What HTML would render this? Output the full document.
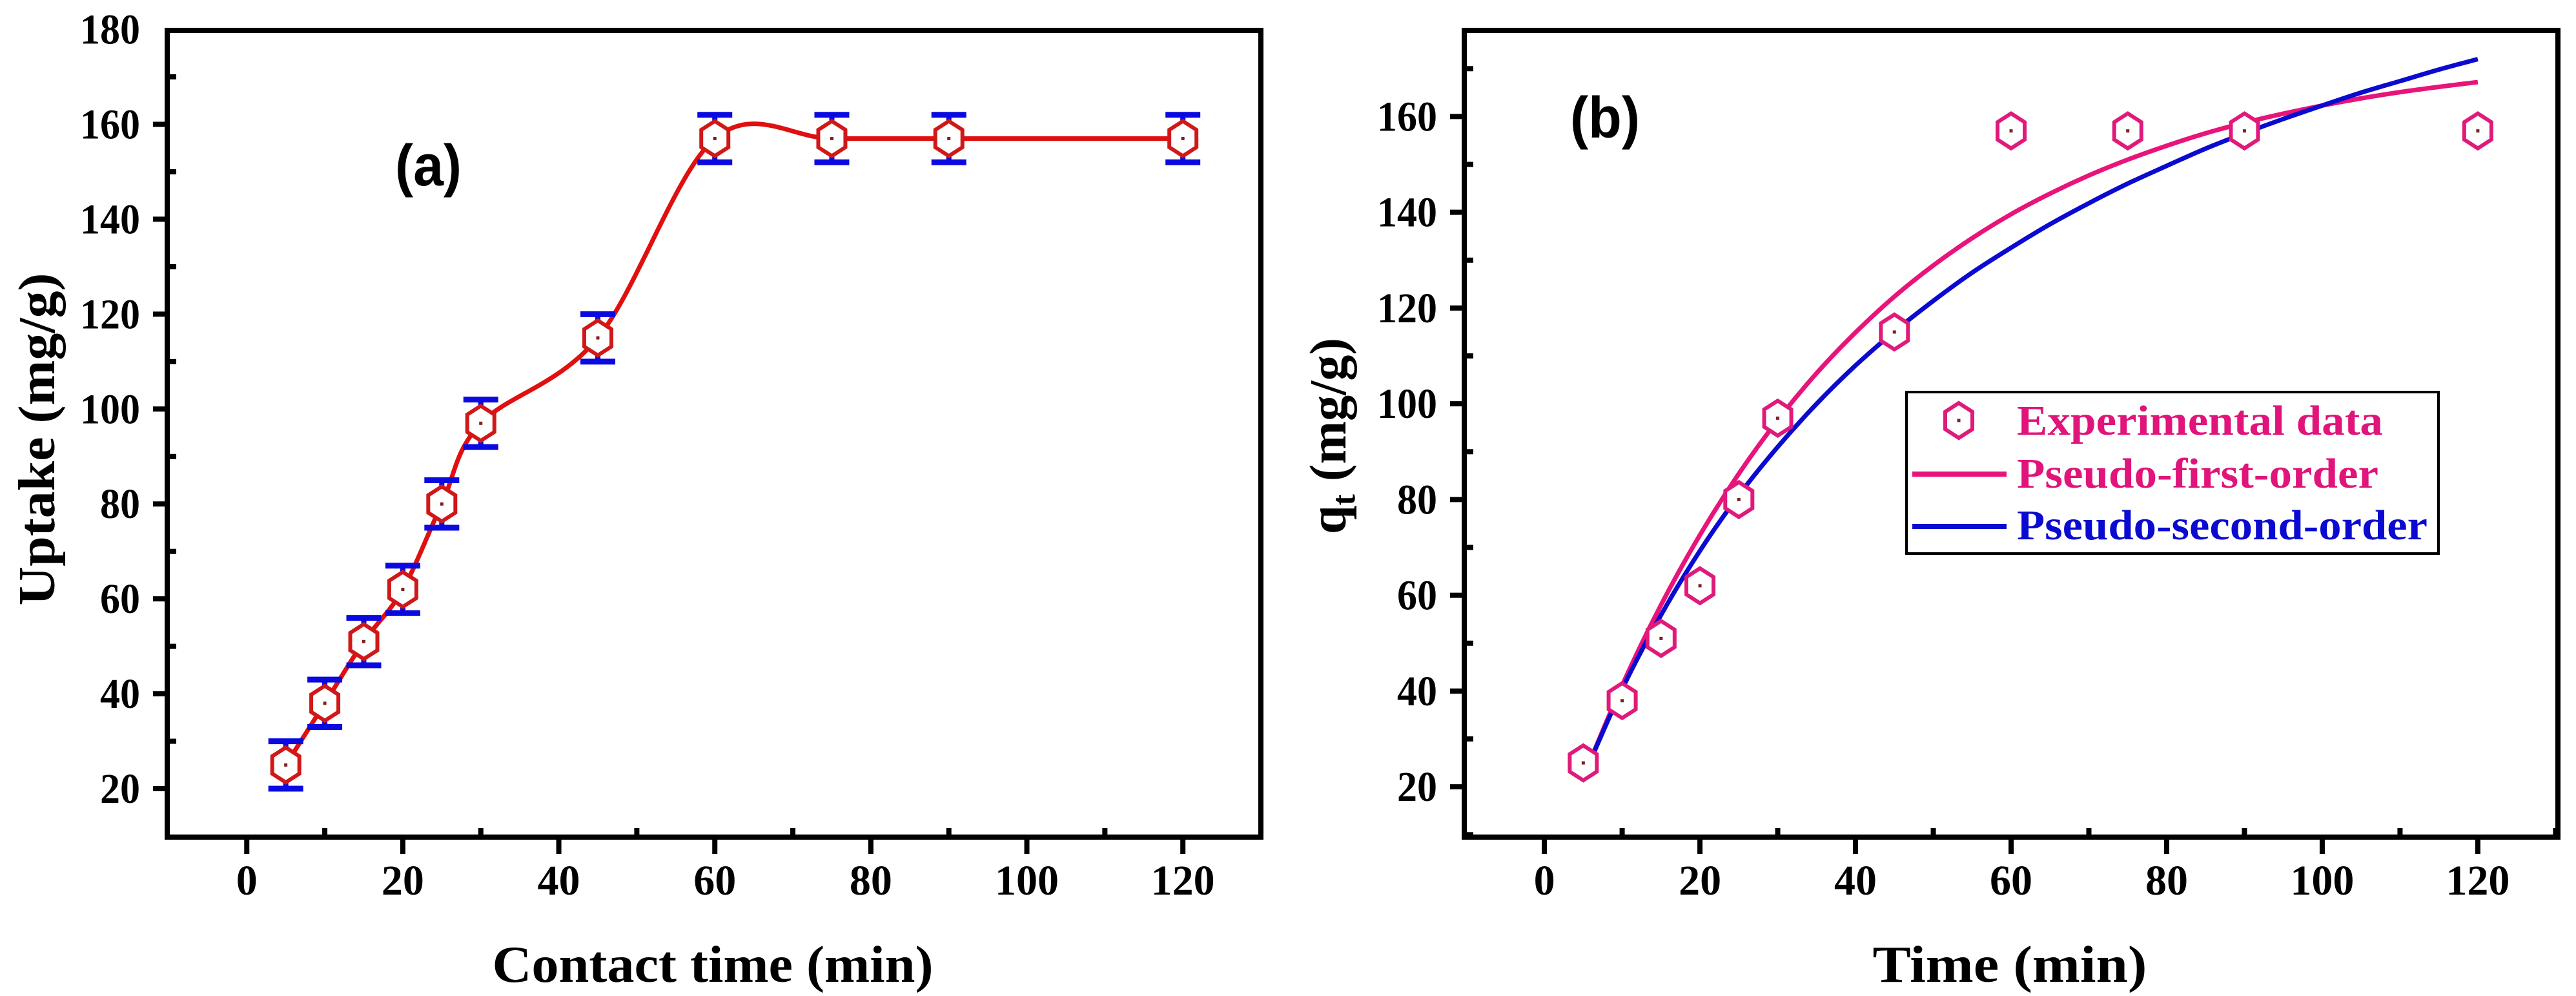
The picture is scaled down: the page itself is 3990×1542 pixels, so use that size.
<!DOCTYPE html>
<html><head><meta charset="utf-8"><style>
html,body{margin:0;padding:0;background:#fff;}
svg{display:block;}
text{font-family:"Liberation Serif",serif;font-weight:bold;}
</style></head><body>
<svg id="chart" width="3990" height="1542" viewBox="0 0 3990 1542" xmlns="http://www.w3.org/2000/svg">
<rect width="3990" height="1542" fill="#fff"/>
</svg>
<script>
// ---- data ----
const times = [5,10,15,20,25,30,45,60,75,90,120];
const uptake = [25,38,51,62,80,97,115,157,157,157,157];
const uptakeErr = [5,5,5,5,5,5,5,5,5,5,5];
const fitTimes = [5,10,15,20,25,30,35,40,45,50,55,60,65,70,75,80,85,90,95,100,105,110,115,120];
const pfoValues = [22.0,41.2,58.0,72.6,85.4,96.6,106.4,114.9,122.4,128.9,134.6,139.6,143.9,147.7,151.0,153.9,156.5,158.7,160.6,162.3,163.8,165.1,166.2,167.2];
const psoValues = [22.0,40.4,55.9,69.3,80.9,91.0,100.0,108.0,115.1,121.5,127.4,132.6,137.5,141.9,146.0,149.7,153.3,156.5,159.5,162.3,165.0,167.4,169.8,172.0];
const xTicksA = [0,20,40,60,80,100,120];
const yTicksA = [20,40,60,80,100,120,140,160,180];
const yTicksB = [20,40,60,80,100,120,140,160];
const legendLabels = ["Experimental data","Pseudo-first-order","Pseudo-second-order"];

const NS="http://www.w3.org/2000/svg";
const svg=document.getElementById('chart');
function mk(tag,attrs,parent){const e=document.createElementNS(NS,tag);for(const k in attrs)e.setAttribute(k,attrs[k]);(parent||svg).appendChild(e);return e;}

function makePanel(cfg){
  const g=mk('g',{});
  
  
  const sx=v=>cfg.x0+(v-cfg.xmin)/(cfg.xmax-cfg.xmin)*(cfg.x1-cfg.x0);
  const sy=v=>cfg.y1-(v-cfg.ymin)/(cfg.ymax-cfg.ymin)*(cfg.y1-cfg.y0);
  const fr=mk('rect',{x:cfg.x0,y:cfg.y0,width:cfg.x1-cfg.x0,height:cfg.y1-cfg.y0,fill:'none',stroke:'#000','stroke-width':8},g);
  
  
  for(let v=0;v<=cfg.xmax;v+=10){
    const X=sx(v);const major=v%20===0;
    const t=mk('line',{x1:X,x2:X,y1:major?cfg.y1:cfg.y1-4,y2:major?cfg.y1+26:cfg.y1-14,stroke:'#000','stroke-width':8},g);
    
    
  }
  xTicksA.forEach(v=>{
    const t=mk('text',{x:sx(v),y:1385,'font-size':66,'text-anchor':'middle'},g);t.textContent=v;
    
    
  });
  for(let v=cfg.ytickStart;v<cfg.ymax;v+=10){
    const Y=sy(v);const major=v%20===0;
    const t=mk('line',{x1:major?cfg.x0-22:cfg.x0+4,x2:major?cfg.x0:cfg.x0+14,y1:Y,y2:Y,stroke:'#000','stroke-width':8},g);
    
    
  }
  cfg.yTicks.forEach(v=>{
    const t=mk('text',{x:cfg.x0-42,y:sy(v)+22,'font-size':66,'text-anchor':'end',textLength:String(v).length*31,lengthAdjust:'spacingAndGlyphs'},g);t.textContent=v;
    
    
  });
  return {g,sx,sy};
}

function hex(g,cx,cy,color,name){
  const rx=21,ry=27;
  const pts=[[cx,cy-ry],[cx+rx,cy-ry/2],[cx+rx,cy+ry/2],[cx,cy+ry],[cx-rx,cy+ry/2],[cx-rx,cy-ry/2]].map(p=>p.join(',')).join(' ');
  const p=mk('polygon',{points:pts,fill:'#fff',stroke:color,'stroke-width':6},g);
  
  
  mk('rect',{x:cx-2.5,y:cy-2.5,width:5,height:5,fill:'#802020'},g);
}

function smoothPath(pts){
  let d='M'+pts[0][0]+','+pts[0][1];
  for(let i=0;i<pts.length-1;i++){
    const p0=pts[i-1]||pts[i],p1=pts[i],p2=pts[i+1],p3=pts[i+2]||p2;
    const c1=[p1[0]+(p2[0]-p0[0])/6,p1[1]+(p2[1]-p0[1])/6];
    const c2=[p2[0]-(p3[0]-p1[0])/6,p2[1]-(p3[1]-p1[1])/6];
    d+=' C'+c1.join(',')+' '+c2.join(',')+' '+p2.join(',');
  }
  return d;
}

// ---- Panel A ----
const A=makePanel({name:'panel-a',x0:259,x1:1953,y0:47,y1:1296,xmin:-10.2,xmax:130,ymin:9.8,ymax:179.8,ytickStart:20,yTicks:yTicksA});
{
  const line=mk('path',{d:smoothPath(times.map((t,i)=>[A.sx(t),A.sy(uptake[i])])),fill:'none',stroke:'#e01010','stroke-width':7},A.g);
  
  
  times.forEach((t,i)=>{
    const X=A.sx(t),Yt=A.sy(uptake[i]+uptakeErr[i]),Yb=A.sy(uptake[i]-uptakeErr[i]);
    const eb=mk('g',{},A.g);
    
    
    mk('line',{x1:X,x2:X,y1:Yt,y2:Yb,stroke:'#0a0ae0','stroke-width':8},eb);
    mk('line',{x1:X-27,x2:X+27,y1:Yt,y2:Yt,stroke:'#0a0ae0','stroke-width':9},eb);
    mk('line',{x1:X-27,x2:X+27,y1:Yb,y2:Yb,stroke:'#0a0ae0','stroke-width':9},eb);
    hex(A.g,X,A.sy(uptake[i]),'#d01818','data-point');
  });
  const lab=mk('text',{x:612,y:287,'font-size':90,style:'font-family:"Liberation Sans",sans-serif',textLength:103,lengthAdjust:'spacingAndGlyphs'},A.g);lab.textContent='(a)';
  
  
  const xt=mk('text',{x:1104,y:1520,'font-size':80,'text-anchor':'middle',textLength:683,lengthAdjust:'spacingAndGlyphs'},A.g);xt.textContent='Contact time (min)';
  
  
  const yt=mk('text',{x:0,y:0,'font-size':80,'text-anchor':'middle',textLength:515,lengthAdjust:'spacingAndGlyphs',transform:'translate(84,680) rotate(-90)'},A.g);yt.textContent='Uptake (mg/g)';
  
  
}

// ---- Panel B ----
const B=makePanel({name:'panel-b',x0:2268,x1:3962,y0:47,y1:1296,xmin:-10.3,xmax:130.3,ymin:9.5,ymax:178,ytickStart:10,yTicks:yTicksB});
{
  const pf=mk('path',{d:smoothPath(fitTimes.map((t,i)=>[B.sx(t),B.sy(pfoValues[i])])),fill:'none',stroke:'#e8147a','stroke-width':7},B.g);
  
  
  const ps=mk('path',{d:smoothPath(fitTimes.map((t,i)=>[B.sx(t),B.sy(psoValues[i])])),fill:'none',stroke:'#0a0ad0','stroke-width':7},B.g);
  
  
  times.forEach((t,i)=>hex(B.g,B.sx(t),B.sy(uptake[i]),'#e01a7a','experimental-point'));
  const lab=mk('text',{x:2432,y:213,'font-size':90,style:'font-family:"Liberation Sans",sans-serif',textLength:108,lengthAdjust:'spacingAndGlyphs'},B.g);lab.textContent='(b)';
  
  
  const xt=mk('text',{x:3113,y:1520,'font-size':80,'text-anchor':'middle',textLength:425,lengthAdjust:'spacingAndGlyphs'},B.g);xt.textContent='Time (min)';
  
  
  const yt=mk('text',{x:0,y:0,'font-size':80,'text-anchor':'middle',transform:'translate(2084,675) rotate(-90)'},B.g);
  
  
  const q=mk('tspan',{},yt);q.textContent='q';
  const sub=mk('tspan',{'font-size':52,dy:14},yt);sub.textContent='t';
  const rest=mk('tspan',{dy:-14},yt);rest.textContent=' (mg/g)';
  const lg=mk('g',{},B.g);
  
  
  mk('rect',{x:2953,y:607,width:824,height:250,fill:'#fff',stroke:'#000','stroke-width':4},lg);
  hex(lg,3034,651,'#e01a7a','legend-marker');
  mk('line',{x1:2962,x2:3108,y1:734,y2:734,stroke:'#e8147a','stroke-width':8},lg);
  mk('line',{x1:2962,x2:3108,y1:815,y2:815,stroke:'#0a0ad0','stroke-width':8},lg);
  const cols=['#e0147a','#e0147a','#0a0ad0'];const ys=[673,755,835];const w=[567,560,636];
  legendLabels.forEach((s,i)=>{
    const t=mk('text',{x:3124,y:ys[i],'font-size':66,fill:cols[i],textLength:w[i],lengthAdjust:'spacingAndGlyphs'},lg);t.textContent=s;
    
    
  });
}
</script>
</body></html>
